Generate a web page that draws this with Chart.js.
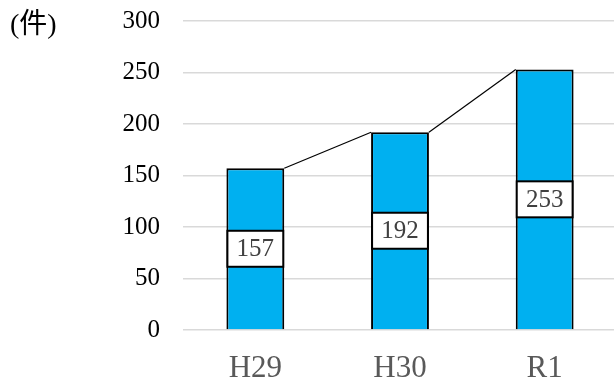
<!DOCTYPE html>
<html><head><meta charset="utf-8">
<script src="https://cdn.jsdelivr.net/npm/chart.js@4"></script>
<style>html,body{margin:0;padding:0;background:#fff;overflow:hidden}#wrap{width:617px;height:380px}</style>
</head><body><div id="wrap"><canvas id="c" width="617" height="380"></canvas></div>
<script>
const categories = ['H29', 'H30', 'R1'];
const counts = [157, 192, 253];
const yMin = 0;
const yMax = 300;
const yStep = 50;
const unitLabel = '(件)';

const SERIF = "'Liberation Serif', 'Noto Sans CJK JP', serif";

const overlay = {
  id: 'overlay',
  afterDatasetsDraw(chart) {
    const ctx = chart.ctx;
    const bars = chart.getDatasetMeta(0).data;
    ctx.save();
    ctx.strokeStyle = '#000';
    ctx.lineWidth = 1.2;
    for (let i = 0; i < bars.length - 1; i++) {
      const a = bars[i].getProps(['x', 'y', 'width'], true);
      const b = bars[i + 1].getProps(['x', 'y', 'width'], true);
      ctx.beginPath();
      ctx.moveTo(a.x + a.width / 2, a.y);
      ctx.lineTo(b.x - b.width / 2, b.y);
      ctx.stroke();
    }
    bars.forEach((bar, i) => {
      const p = bar.getProps(['x', 'y', 'base', 'width'], true);
      const cy = (p.y + p.base) / 2;
      const h = 36;
      const x0 = p.x - p.width / 2 + 1;
      ctx.fillStyle = '#fff';
      ctx.fillRect(x0, cy - h / 2, p.width - 2, h);
      ctx.lineWidth = 2;
      ctx.strokeStyle = '#000';
      ctx.strokeRect(x0, cy - h / 2, p.width - 2, h);
      ctx.fillStyle = '#404040';
      ctx.font = '25px ' + SERIF;
      ctx.textAlign = 'center';
      ctx.textBaseline = 'middle';
      ctx.fillText(String(counts[i]), p.x, cy + 1);
    });
    ctx.fillStyle = '#000';
    ctx.font = '28px ' + SERIF;
    ctx.textAlign = 'left';
    ctx.textBaseline = 'middle';
    ctx.fillText(unitLabel, 10, 26);
    ctx.restore();
  }
};

new Chart(document.getElementById('c'), {
  type: 'bar',
  data: {
    labels: categories,
    datasets: [{
      data: counts,
      backgroundColor: '#00B0F0',
      borderColor: '#000',
      borderWidth: 2,
      barPercentage: 0.4,
      categoryPercentage: 1
    }]
  },
  options: {
    responsive: false,
    animation: false,
    devicePixelRatio: 1,
    layout: { padding: { top: 21, right: 0, left: 0, bottom: 0 } },
    plugins: { legend: { display: false }, tooltip: { enabled: false } },
    scales: {
      x: {
        grid: { display: false, drawTicks: false },
        border: { display: false },
        ticks: { color: '#595959', font: { family: SERIF, size: 31 }, padding: 20 },
        afterFit(s) { s.height = 50; s.paddingLeft = 0; s.paddingRight = 0; }
      },
      y: {
        min: yMin, max: yMax,
        grid: { color: '#D9D9D9', lineWidth: 1.5, drawTicks: false },
        border: { display: false },
        ticks: { stepSize: yStep, color: '#000', font: { family: SERIF, size: 25 }, padding: 23 },
        afterFit(s) { s.width = 183; s.paddingTop = 0; s.paddingBottom = 0; }
      }
    }
  },
  plugins: [overlay]
});
</script>
</body></html>
